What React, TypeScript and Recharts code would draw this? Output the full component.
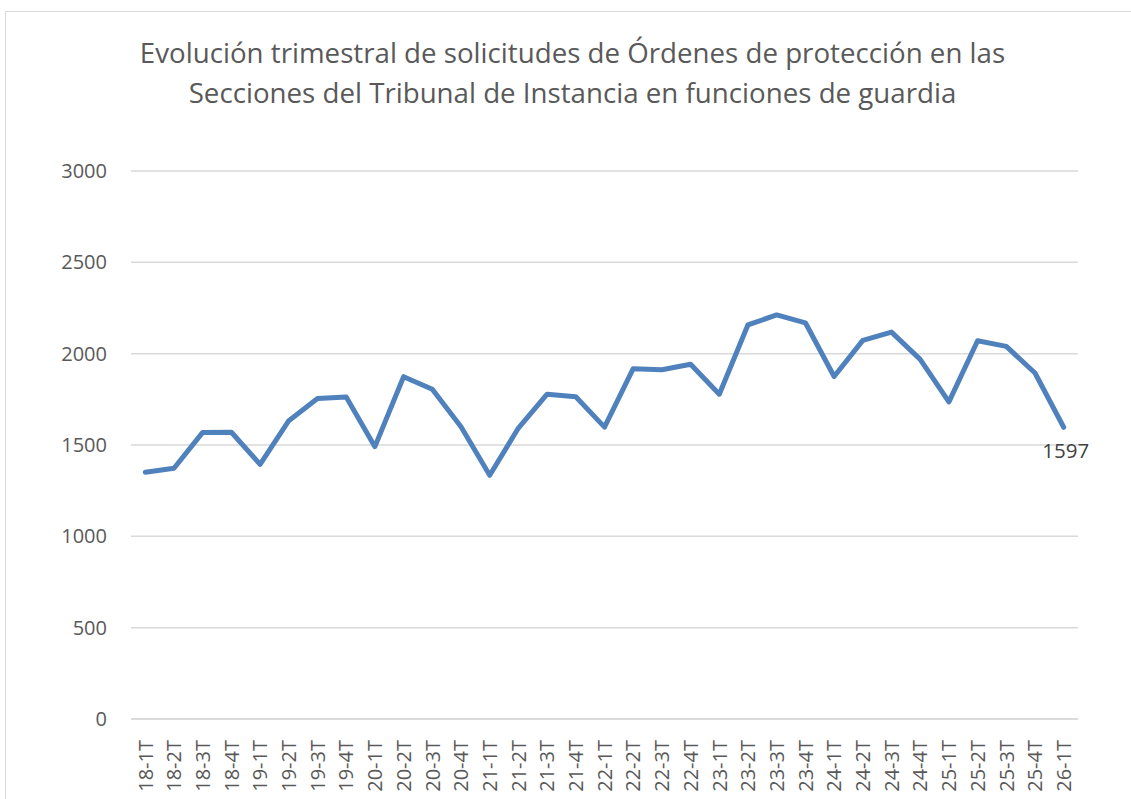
import { LineChart, Line, XAxis, YAxis, CartesianGrid, LabelList } from "recharts";

const quarters = [
  "18-1T", "18-2T", "18-3T", "18-4T",
  "19-1T", "19-2T", "19-3T", "19-4T",
  "20-1T", "20-2T", "20-3T", "20-4T",
  "21-1T", "21-2T", "21-3T", "21-4T",
  "22-1T", "22-2T", "22-3T", "22-4T",
  "23-1T", "23-2T", "23-3T", "23-4T",
  "24-1T", "24-2T", "24-3T", "24-4T",
  "25-1T", "25-2T", "25-3T", "25-4T",
  "26-1T",
];

const solicitudes = [
  1351, 1373, 1569, 1570,
  1394, 1633, 1755, 1763,
  1491, 1874, 1805, 1600,
  1334, 1593, 1778, 1764,
  1598, 1918, 1912, 1942,
  1778, 2158, 2212, 2169,
  1875, 2073, 2118, 1969,
  1736, 2071, 2040, 1894,
  1597,
];

const yTicks = [0, 500, 1000, 1500, 2000, 2500, 3000];

const TITLE = [
  "Evolución trimestral de solicitudes de Órdenes de protección en las",
  "Secciones del Tribunal de Instancia en funciones de guardia",
];

const FONT = "'Open Sans', sans-serif";
const TEXT = "#595959";
const LINE = "#4f81bd";
const GRID = "#d9d9d9";

const data = quarters.map((q, i) => ({ q, v: solicitudes[i] }));

function QuarterTick({ x, y, payload }: any) {
  return (
    <g transform={`translate(${x},${y})`}>
      <text
        transform="rotate(-90)"
        x={-19}
        dy="0.36em"
        textAnchor="end"
        fill={TEXT}
        fontSize={20}
        fontFamily={FONT}
      >
        {payload.value}
      </text>
    </g>
  );
}

function LastLabel({ x, y, value, index }: any) {
  if (index !== data.length - 1) return null;
  return (
    <text x={x + 2} y={y + 31} textAnchor="middle" fill="#404040" fontSize={20.5} fontFamily={FONT}>
      {value}
    </text>
  );
}

export default function App() {
  return (
    <div style={{ position: "absolute", left: 0, top: 0, width: 1131, height: 799, background: "#fff", overflow: "hidden" }}>
      <div
        style={{
          position: "absolute", left: 5, top: 11, width: 1140, height: 800,
          border: `1.5px solid ${GRID}`, boxSizing: "border-box",
        }}
      />
      <div
        style={{
          position: "absolute", left: 0, top: 32, width: 1145, textAlign: "center",
          fontFamily: FONT, fontSize: 27.7, lineHeight: "40px", color: TEXT,
        }}
      >
        {TITLE.map((t) => (
          <div key={t}>{t}</div>
        ))}
      </div>
      <div style={{ position: "absolute", left: 0, top: 0 }}>
        <LineChart width={1131} height={799} data={data} margin={{ top: 171, right: 53, left: 0, bottom: 0 }}>
          <CartesianGrid vertical={false} stroke={GRID} strokeWidth={1.5} />
          <XAxis
            dataKey="q"
            interval={0}
            height={80}
            padding={{ left: 14.3, right: 14.3 }}
            tick={<QuarterTick />}
            tickLine={false}
            tickSize={0}
            axisLine={{ stroke: GRID, strokeWidth: 1.5 }}
          />
          <YAxis
            domain={[0, 3000]}
            ticks={yTicks}
            width={131}
            axisLine={false}
            tickLine={false}
            tickSize={0}
            tickMargin={24}
            tick={{ fill: TEXT, fontSize: 20, fontFamily: FONT }}
          />
          <Line
            type="linear"
            dataKey="v"
            stroke={LINE}
            strokeWidth={5}
            strokeLinejoin="round"
            strokeLinecap="round"
            dot={false}
            isAnimationActive={false}
          >
            <LabelList dataKey="v" content={<LastLabel />} />
          </Line>
        </LineChart>
      </div>
    </div>
  );
}
